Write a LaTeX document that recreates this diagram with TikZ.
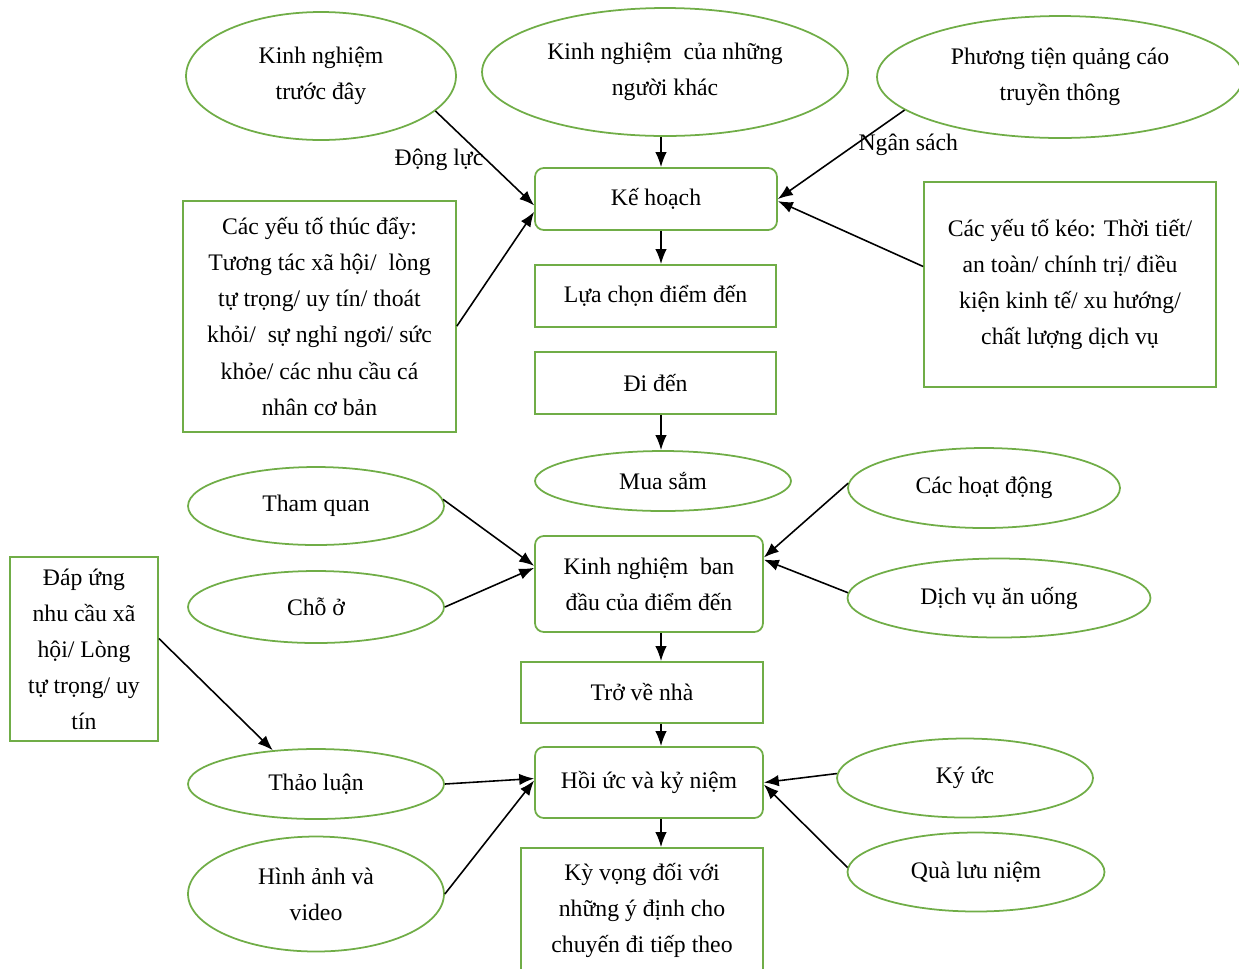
\documentclass[tikz,border=0pt]{standalone}
\usepackage{fontspec}
\setmainfont{Liberation Serif}
\usetikzlibrary{positioning,arrows.meta,shapes.geometric}

\definecolor{leafgreen}{RGB}{112,173,71}

\tikzset{
  every node/.style={font=\fontsize{13.5}{20.5}\selectfont, align=center, inner sep=0pt},
  oval/.style={ellipse, draw=leafgreen, line width=1pt},
  box/.style={rectangle, draw=leafgreen, line width=1pt},
  rbox/.style={box, rounded corners=5pt},
  arr/.style={-{Latex[length=8.5pt,width=6.5pt]}, line width=0.9pt, black},
  lbl/.style={inner sep=1.5pt}
}

\begin{document}
\begin{tikzpicture}[x=0.02cm, y=-0.02cm]
\useasboundingbox (0,0) rectangle (1239,968);
\coordinate (axis) at (661,0);

\node    (e1)      [oval, minimum width=5.4cm,  minimum height=2.56cm]  at (321,76)     {Kinh nghiệm\\trước đây};
\node    (e2)      [oval, minimum width=7.32cm, minimum height=2.56cm]  at (665,72)     {Kinh nghiệm\ \ của những\\người khác};
\node    (e3)      [oval, minimum width=7.32cm, minimum height=2.44cm]  at (1060,77)    {Phương tiện quảng cáo\\truyền thông};
\node    (plan)    [rbox, minimum width=4.84cm, minimum height=1.24cm]  at (656,199)    {Kế hoạch};
\node    (push)    [box,  minimum width=5.46cm, minimum height=4.62cm]  at (319.5,316.5) {Các yếu tố thúc đẩy:\\Tương tác xã hội/\ \ lòng\\tự trọng/ uy tín/ thoát\\khỏi/\ \ sự nghỉ ngơi/ sức\\khỏe/ các nhu cầu cá\\nhân cơ bản};
\node    (pull)    [box,  minimum width=5.84cm, minimum height=4.1cm]   at (1070,284.5) {Các yếu tố kéo: Thời tiết/\\an toàn/ chính trị/ điều\\kiện kinh tế/ xu hướng/\\chất lượng dịch vụ};
\node    (pick)    [box,  minimum width=4.82cm, minimum height=1.24cm]  at (655.5,296)  {Lựa chọn điểm đến};
\node    (arrive)  [box,  minimum width=4.82cm, minimum height=1.24cm]  at (655.5,383)  {Đi đến};
\node    (shop)    [oval, minimum width=5.12cm, minimum height=1.2cm]   at (663,481)    {Mua sắm};

\node    (sights)  [oval, minimum width=5.12cm, minimum height=1.56cm]  at (316,506)    {Tham quan};
\node    (stay)    [oval, minimum width=5.12cm, minimum height=1.44cm]  at (316,607)    {Chỗ ở};
\node    (first)   [rbox, minimum width=4.56cm, minimum height=1.92cm]  at (649,584)    {Kinh nghiệm\ \ ban\\đầu của điểm đến};
\node    (acts)    [oval, minimum width=5.44cm, minimum height=1.6cm]   at (984,488)    {Các hoạt động};
\node    (food)    [oval, minimum width=6.06cm, minimum height=1.58cm]  at (999,598)    {Dịch vụ ăn uống};
\node    (need)    [box,  minimum width=2.96cm, minimum height=3.68cm]  at (84,649)     {Đáp ứng\\nhu cầu xã\\hội/ Lòng\\tự trọng/ uy\\tín};
\node    (return)  [box,  minimum width=4.84cm, minimum height=1.22cm]  at (642,692.5)  {Trở về nhà};

\node    (talk)    [oval, minimum width=5.12cm, minimum height=1.4cm]   at (316,784)    {Thảo luận};
\node    (memo)    [rbox, minimum width=4.56cm, minimum height=1.42cm]  at (649,782.5)  {Hồi ức và kỷ niệm};
\node    (recall)  [oval, minimum width=5.12cm, minimum height=1.58cm]  at (965,778)    {Ký ức};
\node    (photo)   [oval, minimum width=5.12cm, minimum height=2.3cm]   at (316,894)    {Hình ảnh và\\video};
\node    (souv)    [oval, minimum width=5.14cm, minimum height=1.58cm]  at (976,872)    {Quà lưu niệm};
\node    (hope)    [box,  minimum width=4.84cm, minimum height=2.48cm]  at (642,910)    {Kỳ vọng đối với\\những ý định cho\\chuyến đi tiếp theo};

% planning
\path    (e1.-17)    edge[arr] node[lbl, left, pos=.52]  {Động lực}   (plan.183);
\path    (push.-4)   edge[arr]    (plan.186);
\path    (e3.192)    edge[arr] node[lbl, right, pos=.39] {Ngân sách}  (plan.east);
\path    (pull.173)  edge[arr]    (plan.-1);
\path    (e2.south -| axis)      edge[arr]    (plan.north -| axis);
\path    (plan.south -| axis)    edge[arr]    (pick.north -| axis);
\path    (arrive.south -| axis)  edge[arr]    (shop.north -| axis);

% at the destination
\path    (sights.3)   edge[arr]    (first.171);
\path    (stay.east)  edge[arr]    (first.172);
\path    (acts.178)   edge[arr]    (first.13);
\path    (food.178)   edge[arr]    (first.12);
\path    (first.south -| axis)   edge[arr]    (return.north -| axis);

% back home
\path    (need.8)       edge[arr]    (talk.142);
\path    (return.south -| axis)  edge[arr]    (memo.north -| axis);
\path    (talk.east)    edge[arr]    (memo.178);
\path    (photo.east)   edge[arr]    (memo.179);
\path    (recall.178)   edge[arr]    (memo.east);
\path    (souv.178)     edge[arr]    (memo.-1);
\path    (memo.south -| axis)    edge[arr]    (hope.north -| axis);
\end{tikzpicture}
\end{document}
